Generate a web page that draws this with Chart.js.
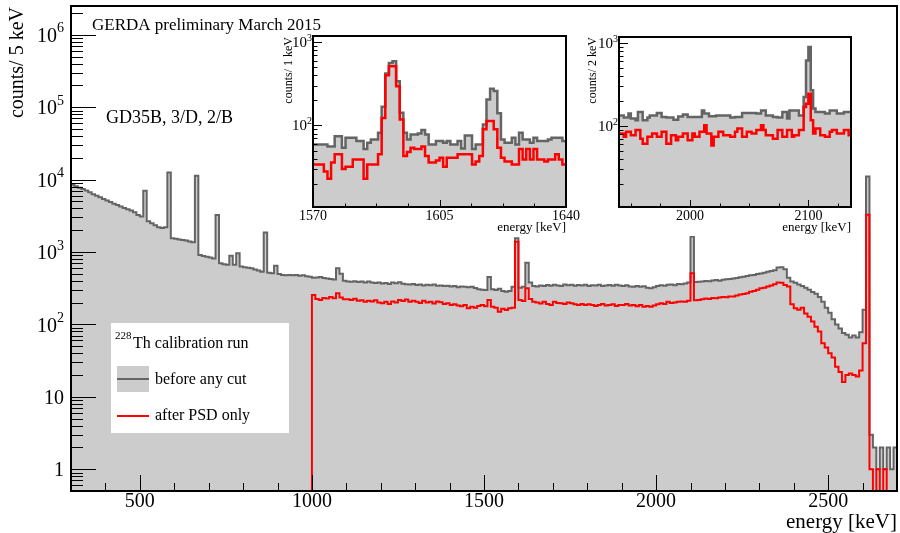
<!DOCTYPE html>
<html lang="en">
<head>
<meta charset="UTF-8">
<title>GERDA 228Th calibration spectrum</title>
<script src="https://cdn.jsdelivr.net/npm/chart.js"></script>
<style>
    html, body { margin: 0; padding: 0; background: #fff; }
    #wrap { position: relative; width: 900px; height: 533px; }
    #wrap canvas { position: absolute; }
    #main { left: 0; top: 0; }
    #inset1 { left: 279px; top: 33px; background: #fff; }
    #inset2 { left: 587px; top: 33px; background: #fff; }
</style>
</head>
<body>
<div id="wrap">
    <canvas id="main" width="900" height="533"></canvas>
    <canvas id="inset1" width="301" height="203"></canvas>
    <canvas id="inset2" width="272" height="203"></canvas>
</div>

<script>
// ---- data ----
// main spectrum: 10 keV bins starting at 300 keV (counts per 5 keV)
const mainStart = 300;
const mainBin = 10;
const beforeMain = [
    8500, 8100, 7700, 7400, 7100, 6700, 6300, 6000, 5700, 5400,
    5150, 4900, 4650, 4450, 4250, 4050, 3900, 3750, 3550, 3250,
    3100, 7000, 2650, 2500, 2350, 2200, 2150, 2200, 12500, 1550,
    1520, 1490, 1470, 1440, 1400, 1360, 11300, 910, 880, 860,
    840, 815, 3250, 700, 680, 665, 885, 665, 960, 630,
    615, 605, 596, 575, 555, 535, 1860, 519, 510, 646,
    495, 480, 478, 482, 476, 480, 470, 478, 462, 455,
    440, 445, 450, 438, 430, 425, 418, 596, 500, 400,
    392, 388, 395, 385, 392, 380, 390, 378, 372, 380,
    368, 372, 362, 378, 370, 382, 365, 360, 355, 362,
    350, 356, 345, 352, 347, 355, 342, 345, 338, 342,
    334, 338, 326, 335, 330, 325, 332, 318, 305, 300,
    298, 450, 305, 298, 310, 290, 283, 290, 330, 1550,
    320, 330, 710, 380, 340, 335, 345, 338, 350, 342,
    352, 346, 340, 355, 348, 352, 342, 350, 346, 352,
    340, 348, 344, 352, 338, 345, 350, 342, 352, 345,
    338, 348, 335, 332, 340, 330, 336, 322, 316, 325,
    340, 348, 342, 352, 355, 348, 362, 358, 368, 380,
    1640, 385, 388, 392, 398, 395, 405, 410, 402, 415,
    420, 425, 432, 438, 448, 455, 465, 478, 482, 495,
    505, 515, 535, 545, 560, 610, 615, 580, 440, 390,
    375, 355, 338, 320, 300, 280, 265, 240, 205, 170,
    145, 118, 100, 88, 76, 72, 66, 70, 66, 78,
    160, 11000, 3, 2, 1, 2, 1, 2, 1, 2
];
const afterMain = [
    0, 0, 0, 0, 0, 0, 0, 0, 0, 0,
    0, 0, 0, 0, 0, 0, 0, 0, 0, 0,
    0, 0, 0, 0, 0, 0, 0, 0, 0, 0,
    0, 0, 0, 0, 0, 0, 0, 0, 0, 0,
    0, 0, 0, 0, 0, 0, 0, 0, 0, 0,
    0, 0, 0, 0, 0, 0, 0, 0, 0, 0,
    0, 0, 0, 0, 0, 0, 0, 0, 0, 0,
    255, 225, 218, 232, 228, 240, 230, 270, 235, 222,
    223, 218, 226, 212, 215, 205, 213, 208, 215, 200,
    196, 205, 192, 208, 200, 218, 210, 220, 205, 212,
    206, 198, 212, 200, 206, 195, 208, 202, 192, 196,
    186, 190, 182, 178, 185, 167, 175, 170, 180, 186,
    178, 218, 175, 170, 150, 165, 158, 167, 170, 1390,
    218, 210, 316, 225, 206, 200, 195, 205, 192, 186,
    206, 198, 196, 192, 200, 196, 190, 186, 192, 186,
    190, 186, 180, 186, 192, 182, 186, 190, 180, 186,
    186, 192, 182, 186, 178, 185, 176, 180, 176, 182,
    190, 196, 192, 205, 198, 200, 205, 208, 206, 212,
    510, 215, 218, 222, 228, 225, 232, 230, 235, 240,
    238, 242, 242, 250, 258, 262, 270, 283, 290, 300,
    316, 322, 333, 345, 360, 378, 375, 351, 333, 190,
    167, 160, 170, 142, 128, 110, 93, 80, 55, 48,
    40, 35, 26, 22, 16, 20, 21, 20, 19, 23,
    55, 3260, 1, 0, 1, 0, 1, 0, 0, 0
];
const mainXTicks = [500, 1000, 1500, 2000, 2500];
const mainYDecades = [0, 1, 2, 3, 4, 5, 6];

// inset 1: 1 keV bins from 1570 keV
const inset1Start = 1570;
const inset1Bin = 1;
const beforeInset1 = [
    59, 59, 59, 59, 56, 56, 74, 74, 54, 71,
    71, 71, 65, 65, 52, 62, 68, 68, 82, 168,
    420, 560, 590, 340, 142, 82, 68, 78, 78, 80,
    88, 78, 59, 59, 65, 65, 62, 65, 59, 59,
    65, 53, 76, 76, 52, 59, 59, 103, 205, 276,
    260, 140, 68, 62, 62, 71, 59, 82, 68, 68,
    62, 71, 65, 65, 65, 68, 71, 71, 71, 65
];
const afterInset1 = [
    34, 34, 34, 28, 23, 36, 45, 45, 30, 32,
    32, 39, 39, 39, 23, 34, 34, 34, 45, 123,
    400, 515, 515, 296, 118, 43, 48, 54, 52, 52,
    56, 43, 36, 36, 38, 41, 32, 41, 41, 41,
    45, 45, 45, 45, 34, 37, 43, 90, 113, 113,
    90, 54, 41, 37, 37, 34, 34, 52, 39, 52,
    39, 52, 39, 39, 37, 39, 39, 45, 39, 34
];
const inset1XTicks = [1570, 1605, 1640];

// inset 2: 2 keV bins from 1940 keV
const inset2Start = 1940;
const inset2Bin = 2;
const beforeInset2 = [
    134, 134, 126, 126, 141, 123, 123, 117, 147, 147,
    117, 117, 126, 134, 134, 134, 143, 143, 128, 128,
    126, 126, 126, 119, 119, 130, 130, 137, 137, 128,
    128, 128, 128, 128, 128, 154, 141, 141, 131, 131,
    131, 134, 134, 134, 134, 134, 134, 126, 126, 128,
    128, 128, 143, 143, 143, 143, 143, 143, 141, 141,
    154, 154, 134, 134, 134, 128, 128, 126, 126, 147,
    147, 123, 154, 154, 154, 154, 134, 134, 223, 618,
    896, 269, 162, 147, 147, 147, 147, 141, 141, 154,
    154, 154, 141, 141, 141, 147, 147, 147
];
const afterInset2 = [
    81, 81, 74, 85, 85, 77, 77, 89, 89, 70,
    61, 61, 74, 74, 81, 81, 74, 74, 85, 85,
    61, 61, 77, 77, 67, 74, 74, 81, 81, 67,
    67, 81, 74, 74, 85, 85, 102, 81, 81, 58,
    74, 74, 85, 85, 77, 77, 77, 74, 74, 85,
    93, 93, 74, 74, 85, 85, 81, 81, 89, 89,
    102, 89, 77, 77, 77, 70, 70, 89, 89, 74,
    74, 89, 89, 74, 77, 77, 89, 89, 169, 185,
    245, 117, 81, 93, 93, 77, 77, 74, 74, 85,
    89, 89, 81, 81, 81, 89, 89, 77
];
const inset2XTicks = [2000, 2100];
const insetYDecades = [2, 3];

// ---- helpers ----
const serif = '"Liberation Serif", "Times New Roman", serif';
const grayLine = '#646464';
const grayFill = '#cccccc';
const redLine = '#ff0000';

// step histogram: one point per bin edge, last edge repeats the last value.
// empty bins can't sit on a log axis, so they go just under the visible range
function histPoints(start, width, values, floor) {
    const pts = values.map((v, i) => ({ x: start + i * width, y: v > 0 ? v : floor }));
    pts.push({ x: start + values.length * width, y: pts[pts.length - 1].y });
    return pts;
}

// "10" with a raised exponent, right aligned at xRight
function drawPow(ctx, base, exp, xRight, yMid, px, supPx, raise) {
    ctx.font = px + 'px ' + serif;
    const wb = ctx.measureText(base).width;
    ctx.font = supPx + 'px ' + serif;
    const we = exp ? ctx.measureText(exp).width : 0;
    const x0 = xRight - wb - we;
    ctx.textAlign = 'left';
    ctx.textBaseline = 'middle';
    ctx.font = px + 'px ' + serif;
    ctx.fillText(base, x0, yMid);
    if (exp) {
        ctx.font = supPx + 'px ' + serif;
        ctx.fillText(exp, x0 + wb, yMid - raise);
    }
}

// ROOT-like frame with ticks pointing inwards, drawn over the histograms
function rootAxes(o) {
    return {
        id: 'rootAxes',
        afterDatasetsDraw(chart) {
            const ctx = chart.ctx, a = chart.chartArea;
            const xs = chart.scales.x, ys = chart.scales.y;
            ctx.save();
            ctx.strokeStyle = '#000';
            ctx.lineWidth = 1;
            ctx.beginPath();
            for (let v = o.xMinorFrom; v <= o.xMax + 1e-6; v += o.xMinorStep) {
                const px = Math.round(xs.getPixelForValue(v)) + 0.5;
                const len = o.xTicks.includes(v) ? o.xMajorLen : o.xMinorLen;
                ctx.moveTo(px, a.bottom);
                ctx.lineTo(px, a.bottom - len);
            }
            const d0 = Math.floor(Math.log10(o.yMin)), d1 = Math.ceil(Math.log10(o.yMax));
            for (let d = d0; d <= d1; d++) {
                for (let m = 1; m <= 9; m++) {
                    const v = m * Math.pow(10, d);
                    if (v < o.yMin || v > o.yMax) continue;
                    const py = Math.round(ys.getPixelForValue(v)) + 0.5;
                    ctx.moveTo(a.left, py);
                    ctx.lineTo(a.left + (m === 1 ? o.yMajorLen : o.yMinorLen), py);
                }
            }
            ctx.stroke();
            ctx.lineWidth = o.frameWidth;
            ctx.strokeRect(a.left, a.top, a.right - a.left, a.bottom - a.top);

            ctx.fillStyle = '#000';
            ctx.font = o.xTickPx + 'px ' + serif;
            ctx.textAlign = 'center';
            ctx.textBaseline = 'middle';
            o.xTicks.forEach(v => ctx.fillText(String(v), xs.getPixelForValue(v), a.bottom + o.xLabelDy));
            o.yDecades.forEach(d => {
                const y = ys.getPixelForValue(Math.pow(10, d)) + o.yLabelDy;
                const base = d === 0 ? '1' : '10';
                const exp = d > 1 ? String(d) : '';
                drawPow(ctx, base, exp, a.left + o.yLabelDx, y, o.yTickPx, o.ySupPx, o.ySupRaise);
            });
            ctx.restore();
        },
        afterDraw(chart) {
            const ctx = chart.ctx, a = chart.chartArea;
            ctx.save();
            ctx.fillStyle = '#000';
            // y axis title, right aligned at the top
            ctx.translate(o.yTitleX, o.yTitleEnd);
            ctx.rotate(-Math.PI / 2);
            ctx.font = o.yTitlePx + 'px ' + serif;
            ctx.textAlign = 'right';
            ctx.textBaseline = 'middle';
            ctx.fillText(o.yTitle, 0, 0);
            ctx.restore();
            ctx.save();
            ctx.fillStyle = '#000';
            ctx.font = o.xTitlePx + 'px ' + serif;
            ctx.textAlign = 'right';
            ctx.textBaseline = 'middle';
            ctx.fillText('energy [keV]', a.right, o.xTitleY);
            ctx.restore();
            if (o.extra) o.extra(chart);
        }
    };
}

function histChart(id, o) {
    const floor = o.yMin / 4;
    return new Chart(document.getElementById(id), {
        type: 'line',
        data: {
            datasets: [
                {
                    label: 'after PSD only',
                    data: histPoints(o.start, o.bin, o.after, floor),
                    borderColor: redLine,
                    borderWidth: o.lineWidth,
                    stepped: 'before',
                    pointRadius: 0,
                    fill: false,
                    order: 0
                },
                {
                    label: 'before any cut',
                    data: histPoints(o.start, o.bin, o.before, floor),
                    borderColor: grayLine,
                    backgroundColor: grayFill,
                    borderWidth: o.lineWidth,
                    stepped: 'before',
                    pointRadius: 0,
                    fill: 'start',
                    order: 1
                }
            ]
        },
        options: {
            responsive: false,
            animation: false,
            events: [],
            layout: { padding: o.padding },
            plugins: { legend: { display: false }, tooltip: { enabled: false } },
            scales: {
                x: { type: 'linear', display: false, min: o.xMin, max: o.xMax },
                y: { type: 'logarithmic', display: false, min: o.yMin, max: o.yMax }
            }
        },
        plugins: [rootAxes(o)]
    });
}

// texts and legend of the main pad
function mainExtras(chart) {
    const ctx = chart.ctx;
    ctx.save();
    ctx.fillStyle = '#000';
    ctx.textAlign = 'left';
    ctx.textBaseline = 'alphabetic';
    ctx.font = '17px ' + serif;
    ctx.fillText('GERDA preliminary March 2015', 92, 30);
    ctx.font = '18px ' + serif;
    ctx.fillText('GD35B, 3/D, 2/B', 106, 123);

    // legend box
    ctx.fillStyle = '#fff';
    ctx.fillRect(111, 323, 178, 110);
    ctx.fillStyle = '#000';
    ctx.font = '11px ' + serif;
    ctx.fillText('228', 115, 339);
    ctx.font = '16px ' + serif;
    ctx.fillText('Th calibration run', 133, 348);
    ctx.fillStyle = grayFill;
    ctx.fillRect(117, 366, 32, 26);
    ctx.strokeStyle = grayLine;
    ctx.lineWidth = 2;
    ctx.beginPath();
    ctx.moveTo(117, 379);
    ctx.lineTo(149, 379);
    ctx.stroke();
    ctx.strokeStyle = redLine;
    ctx.beginPath();
    ctx.moveTo(117, 416);
    ctx.lineTo(149, 416);
    ctx.stroke();
    ctx.fillStyle = '#000';
    ctx.fillText('before any cut', 155, 384);
    ctx.fillText('after PSD only', 155, 420);
    ctx.restore();
}

histChart('main', {
    start: mainStart, bin: mainBin, before: beforeMain, after: afterMain,
    xMin: 300, xMax: 2700, yMin: 0.5, yMax: 2.5e6,
    padding: { left: 71, right: 3, top: 6, bottom: 42 },
    lineWidth: 2, frameWidth: 2,
    xTicks: mainXTicks, xMinorFrom: 300, xMinorStep: 100, xMajorLen: 16, xMinorLen: 8,
    yDecades: mainYDecades, yMajorLen: 25, yMinorLen: 12,
    xTickPx: 20, xLabelDy: 11,
    yTickPx: 20, ySupPx: 14, ySupRaise: 8, yLabelDx: -7, yLabelDy: 2,
    yTitle: 'counts/ 5 keV', yTitlePx: 20, yTitleX: 18, yTitleEnd: 7,
    xTitlePx: 21, xTitleY: 522,
    extra: mainExtras
});

histChart('inset1', {
    start: inset1Start, bin: inset1Bin, before: beforeInset1, after: afterInset1,
    xMin: 1570, xMax: 1640, yMin: 10.5, yMax: 1185,
    padding: { left: 34, right: 14, top: 3, bottom: 29 },
    lineWidth: 2.5, frameWidth: 2,
    xTicks: inset1XTicks, xMinorFrom: 1570, xMinorStep: 8.75, xMajorLen: 7, xMinorLen: 3.5,
    yDecades: insetYDecades, yMajorLen: 9, yMinorLen: 4.5,
    xTickPx: 14, xLabelDy: 9,
    yTickPx: 15, ySupPx: 10, ySupRaise: 5, yLabelDx: -1, yLabelDy: 1,
    yTitle: 'counts/ 1 keV', yTitlePx: 12, yTitleX: 10, yTitleEnd: 4,
    xTitlePx: 13, xTitleY: 195
});

histChart('inset2', {
    start: inset2Start, bin: inset2Bin, before: beforeInset2, after: afterInset2,
    xMin: 1940, xMax: 2136, yMin: 10.5, yMax: 1185,
    padding: { left: 32, right: 8, top: 4, bottom: 29 },
    lineWidth: 2.5, frameWidth: 2,
    xTicks: inset2XTicks, xMinorFrom: 1950, xMinorStep: 25, xMajorLen: 7, xMinorLen: 3.5,
    yDecades: insetYDecades, yMajorLen: 9, yMinorLen: 4.5,
    xTickPx: 14, xLabelDy: 9,
    yTickPx: 15, ySupPx: 10, ySupRaise: 5, yLabelDx: -1, yLabelDy: 1,
    yTitle: 'counts/ 2 keV', yTitlePx: 12, yTitleX: 6, yTitleEnd: 4,
    xTitlePx: 13, xTitleY: 195
});
</script>
</body>
</html>
